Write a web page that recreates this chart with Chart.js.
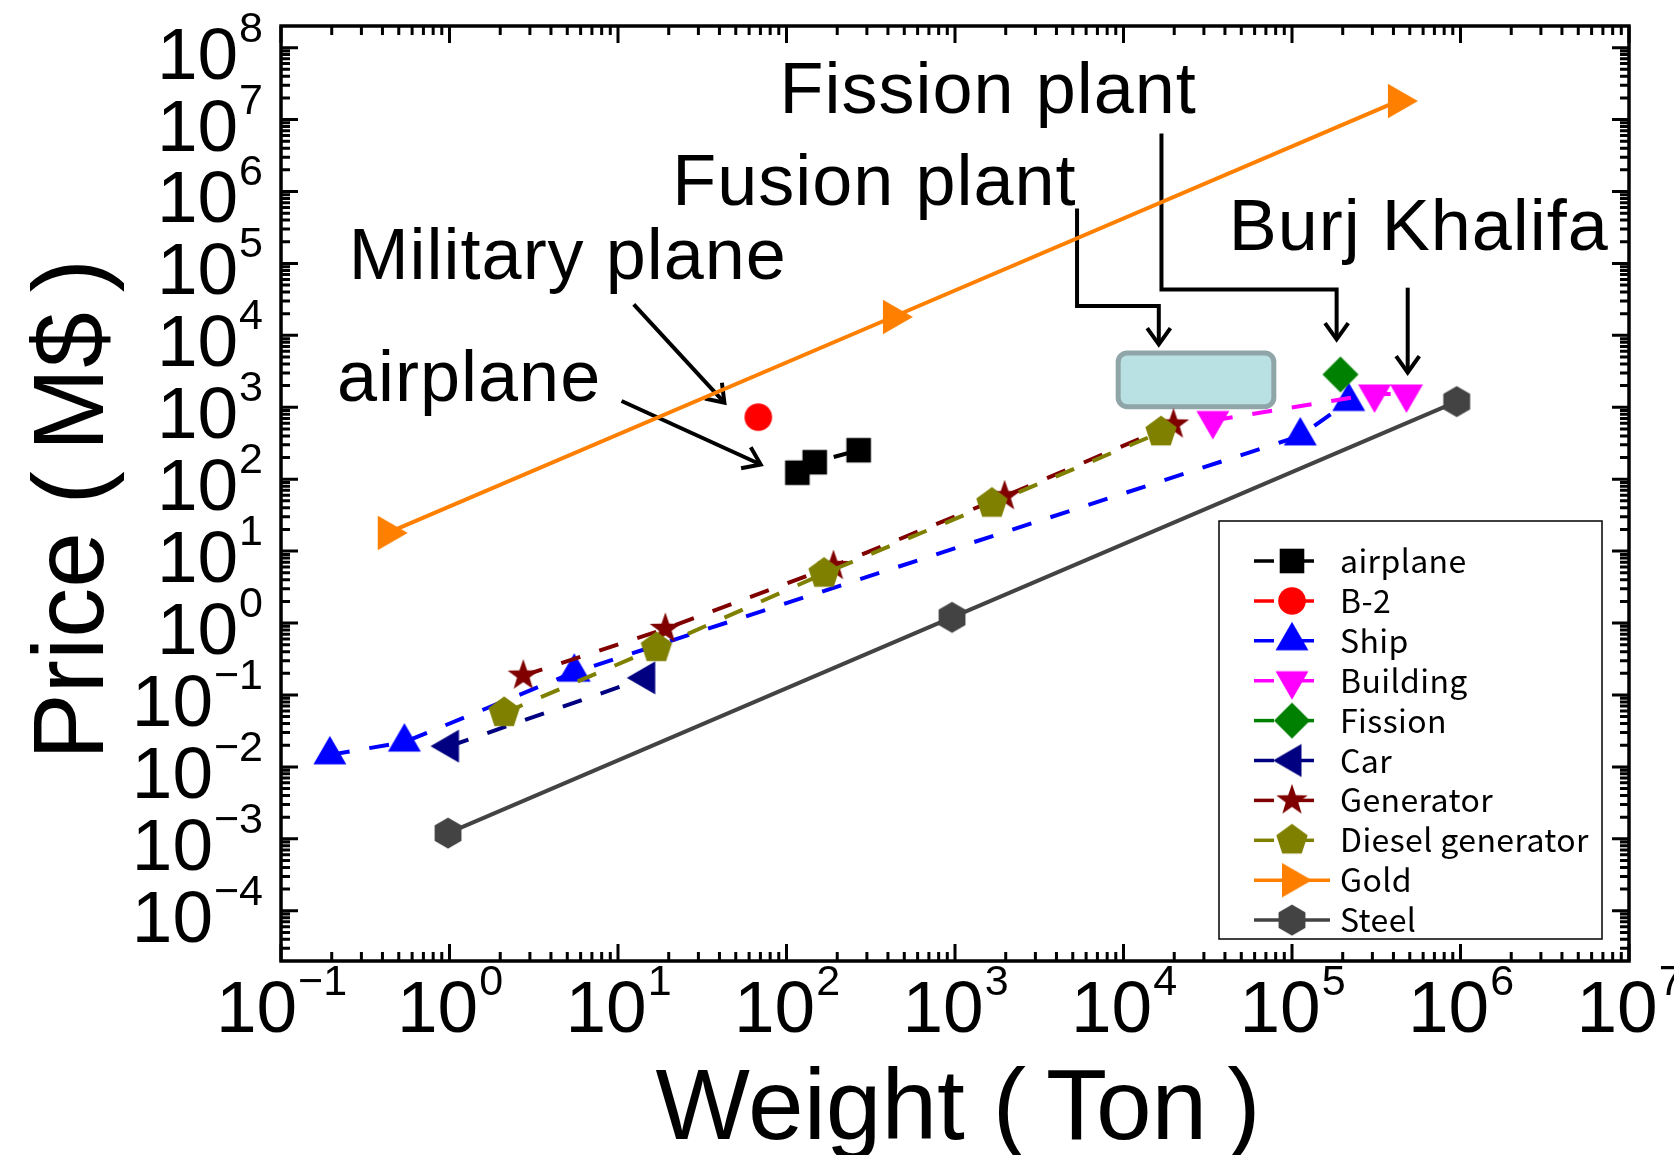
<!DOCTYPE html>
<html lang="en">
<head>
    <meta charset="UTF-8">
    <title>Price vs Weight</title>
    <script src="https://cdn.jsdelivr.net/npm/chart.js"></script>
    <style>
        body { margin: 0; background: #ffffff; }
        .wrap { width: 1674px; height: 1155px; position: relative; }
    </style>
</head>
<body>
    <div class="wrap"><canvas id="priceChart"></canvas></div>

    <script>
        // weight in ton, price in M$
        const airplaneWeight = [116, 147, 268];
        const airplanePrice = [123, 172, 253];
        const b2Weight = [68];
        const b2Price = [728];
        const shipWeight = [0.195, 0.54, 5.5, 1.12e5, 2.17e5];
        const shipPrice = [0.0147, 0.0221, 0.207, 400, 1205];
        const buildingWeight = [3.39e4, 3.09e5, 4.78e5];
        const buildingPrice = [655, 1530, 1530];
        const fissionWeight = [1.94e5];
        const fissionPrice = [2860];
        const carWeight = [1.0, 14.6];
        const carPrice = [0.0194, 0.173];
        const generatorWeight = [2.74, 19.1, 190, 1970, 1.98e4];
        const generatorPrice = [0.186, 0.83, 6.2, 58, 577];
        const dieselWeight = [2.11, 16.9, 167, 1656, 1.67e4];
        const dieselPrice = [0.0564, 0.452, 4.88, 45.9, 451];
        const goldWeight = [0.43, 428, 4.25e5];
        const goldPrice = [17.9, 1.8e4, 1.81e7];
        const steelWeight = [0.98, 960, 9.5e5];
        const steelPrice = [0.0012, 1.2, 1200];

        const xExponents = [-1, 0, 1, 2, 3, 4, 5, 6, 7];
        const yExponents = [-4, -3, -2, -1, 0, 1, 2, 3, 4, 5, 6, 7, 8];

        // annotations, in data units (weight, price)
        const noteTexts = ['Fission plant', 'Fusion plant', 'Burj Khalifa', 'Military plane', 'airplane'];
        const noteWeight = [91, 21, 4.21e4, 0.252, 0.215];
        const notePrice = [1.22e7, 6.47e5, 1.52e5, 6.05e4, 1216];
        const fissionArrow = [[1.68e4, 6.4e6], [1.68e4, 4.35e4], [1.84e5, 4.35e4], [1.84e5, 8.8e3]];
        const fusionArrow = [[5.3e3, 5.8e5], [5.3e3, 2.55e4], [1.62e4, 2.55e4], [1.62e4, 7.5e3]];
        const burjArrow = [[4.86e5, 4.6e4], [4.86e5, 3.05e3]];
        const militaryArrow = [[12.4, 2.7e4], [42.8, 1.16e3]];
        const airplaneArrow = [[10.5, 1.22e3], [70.3, 160]];
        const fusionBox = [[9.3e3, 1.02e3], [7.8e4, 5.7e3]];

        // marker images
        function polyPath(g, n, r, start) {
            for (let i = 0; i < n; i++) {
                const a = start + i * 2 * Math.PI / n;
                if (i === 0) g.moveTo(r * Math.cos(a), r * Math.sin(a));
                else g.lineTo(r * Math.cos(a), r * Math.sin(a));
            }
        }
        function makeMarker(kind, color) {
            const c = document.createElement('canvas');
            c.width = 44; c.height = 44;
            const g = c.getContext('2d');
            g.translate(22, 22);
            g.fillStyle = color;
            g.beginPath();
            if (kind === 'square') g.rect(-12.3, -12.3, 24.6, 24.6);
            else if (kind === 'circle') g.arc(0, 0, 13.8, 0, Math.PI * 2);
            else if (kind === 'up') polyPath(g, 3, 19, -Math.PI / 2);
            else if (kind === 'down') polyPath(g, 3, 19, Math.PI / 2);
            else if (kind === 'left') polyPath(g, 3, 19, Math.PI);
            else if (kind === 'right') polyPath(g, 3, 20, 0);
            else if (kind === 'diamond') polyPath(g, 4, 18, 0);
            else if (kind === 'pentagon') polyPath(g, 5, 16.5, -Math.PI / 2);
            else if (kind === 'hexagon') polyPath(g, 6, 15.5, -Math.PI / 2);
            else if (kind === 'star') {
                for (let i = 0; i < 10; i++) {
                    const a = -Math.PI / 2 + i * Math.PI / 5;
                    const r = i % 2 ? 6.6 : 16.5;
                    if (i === 0) g.moveTo(r * Math.cos(a), r * Math.sin(a));
                    else g.lineTo(r * Math.cos(a), r * Math.sin(a));
                }
            }
            g.closePath();
            g.fill();
            return c;
        }

        function series(label, xs, ys, color, marker, dashed) {
            return {
                label: label,
                data: xs.map((x, i) => ({ x: x, y: ys[i] })),
                showLine: true,
                borderColor: color,
                backgroundColor: color,
                borderWidth: 4,
                borderDash: dashed ? [20, 20] : [],
                pointStyle: makeMarker(marker, color),
                pointRadius: 15,
                pointHoverRadius: 15,
                tension: 0
            };
        }

        const datasets = [
            series('airplane', airplaneWeight, airplanePrice, '#000000', 'square', true),
            series('B-2', b2Weight, b2Price, '#ff0000', 'circle', true),
            series('Ship', shipWeight, shipPrice, '#0000ff', 'up', true),
            series('Building', buildingWeight, buildingPrice, '#ff00ff', 'down', true),
            series('Fission', fissionWeight, fissionPrice, '#008000', 'diamond', true),
            series('Car', carWeight, carPrice, '#000080', 'left', true),
            series('Generator', generatorWeight, generatorPrice, '#800000', 'star', true),
            series('Diesel generator', dieselWeight, dieselPrice, '#808000', 'pentagon', true),
            series('Gold', goldWeight, goldPrice, '#ff8000', 'right', false),
            series('Steel', steelWeight, steelPrice, '#434343', 'hexagon', false)
        ];
        // later series drawn on top
        datasets.forEach((d, i) => { d.order = datasets.length - i; });

        const labelFont = '"Liberation Sans", Arial, sans-serif';

        function drawArrow(ctx, xs, ys, pts) {
            ctx.beginPath();
            pts.forEach((p, i) => {
                const px = xs.getPixelForValue(p[0]), py = ys.getPixelForValue(p[1]);
                if (i === 0) ctx.moveTo(px, py); else ctx.lineTo(px, py);
            });
            ctx.stroke();
            const n = pts.length;
            const tx = xs.getPixelForValue(pts[n - 1][0]), ty = ys.getPixelForValue(pts[n - 1][1]);
            const fx = xs.getPixelForValue(pts[n - 2][0]), fy = ys.getPixelForValue(pts[n - 2][1]);
            const ang = Math.atan2(ty - fy, tx - fx);
            const len = 20, spread = 0.62;
            ctx.beginPath();
            ctx.moveTo(tx - len * Math.cos(ang - spread), ty - len * Math.sin(ang - spread));
            ctx.lineTo(tx, ty);
            ctx.lineTo(tx - len * Math.cos(ang + spread), ty - len * Math.sin(ang + spread));
            ctx.stroke();
        }

        const notesPlugin = {
            id: 'notes',
            beforeDatasetsDraw(chart) {
                const ctx = chart.ctx, xs = chart.scales.x, ys = chart.scales.y;
                ctx.save();
                // fusion plant box
                const bx0 = xs.getPixelForValue(fusionBox[0][0]), bx1 = xs.getPixelForValue(fusionBox[1][0]);
                const by0 = ys.getPixelForValue(fusionBox[1][1]), by1 = ys.getPixelForValue(fusionBox[0][1]);
                ctx.beginPath();
                ctx.roundRect(bx0, by0, bx1 - bx0, by1 - by0, 9);
                ctx.fillStyle = '#b9e0e3';
                ctx.fill();
                ctx.lineWidth = 5;
                ctx.strokeStyle = '#8fa5a7';
                ctx.stroke();

                ctx.strokeStyle = '#000000';
                ctx.lineWidth = 4;
                ctx.lineJoin = 'miter';
                [fissionArrow, fusionArrow, burjArrow, militaryArrow, airplaneArrow].forEach(a => drawArrow(ctx, xs, ys, a));

                ctx.fillStyle = '#000000';
                ctx.font = '72px ' + labelFont;
                ctx.letterSpacing = '1px';
                ctx.textAlign = 'left';
                ctx.textBaseline = 'alphabetic';
                noteTexts.forEach((t, i) => {
                    ctx.fillText(t, xs.getPixelForValue(noteWeight[i]), ys.getPixelForValue(notePrice[i]));
                });
                ctx.restore();
            }
        };

        function powerLabel(ctx, exp, x, baseY, align) {
            const base = '10';
            const sup = exp < 0 ? '\u2212' + (-exp) : String(exp);
            ctx.font = '73px ' + labelFont;
            const wb = ctx.measureText(base).width;
            ctx.font = '43px ' + labelFont;
            const ws = ctx.measureText(sup).width;
            const start = align === 'center' ? x - (wb + ws) / 2 : x - (wb + ws);
            ctx.textAlign = 'left';
            ctx.font = '73px ' + labelFont;
            ctx.fillText(base, start, baseY);
            ctx.font = '43px ' + labelFont;
            ctx.fillText(sup, start + wb + 1, baseY - 37);
        }

        const framePlugin = {
            id: 'frame',
            afterDraw(chart) {
                const ctx = chart.ctx, ca = chart.chartArea;
                const xs = chart.scales.x, ys = chart.scales.y;
                ctx.save();
                ctx.strokeStyle = '#000000';
                ctx.fillStyle = '#000000';

                // ticks on all four sides, pointing inward
                ctx.lineWidth = 3;
                ctx.beginPath();
                for (let e = -1; e <= 7; e++) {
                    for (let m = 1; m <= 9; m++) {
                        const v = m * Math.pow(10, e);
                        if (v < xs.min || v > xs.max) continue;
                        const px = xs.getPixelForValue(v);
                        const len = m === 1 ? 17 : 9;
                        ctx.moveTo(px, ca.bottom); ctx.lineTo(px, ca.bottom - len);
                        ctx.moveTo(px, ca.top); ctx.lineTo(px, ca.top + len);
                    }
                }
                for (let e = -5; e <= 8; e++) {
                    for (let m = 1; m <= 9; m++) {
                        const v = m * Math.pow(10, e);
                        if (v <= ys.min * 1.01 || v >= ys.max * 0.99) continue;
                        const py = ys.getPixelForValue(v);
                        const len = m === 1 ? 17 : 9;
                        ctx.moveTo(ca.left, py); ctx.lineTo(ca.left + len, py);
                        ctx.moveTo(ca.right, py); ctx.lineTo(ca.right - len, py);
                    }
                }
                ctx.stroke();

                ctx.lineWidth = 3.5;
                ctx.strokeRect(ca.left, ca.top, ca.right - ca.left, ca.bottom - ca.top);

                // tick labels
                ctx.textBaseline = 'alphabetic';
                xExponents.forEach(e => {
                    powerLabel(ctx, e, xs.getPixelForValue(Math.pow(10, e)), ca.bottom + 71, 'center');
                });
                yExponents.forEach(e => {
                    powerLabel(ctx, e, ca.left - 19, ys.getPixelForValue(Math.pow(10, e)) + 31, 'right');
                });

                // axis titles
                ctx.textAlign = 'center';
                ctx.font = '100px ' + labelFont;
                ctx.fillText('Weight (\u2009Ton\u2009)', (ca.left + ca.right) / 2 + 3, ca.bottom + 178);
                ctx.save();
                ctx.translate(ca.left - 178, (ca.top + ca.bottom) / 2 + 16);
                ctx.rotate(-Math.PI / 2);
                ctx.font = '100px ' + labelFont;
                ctx.fillText('Price (\u2009M$\u2009)', 0, 0);
                ctx.restore();

                // legend box, lower right inside the frame
                const lw = 383, lh = 418;
                const lx = ca.right - 27 - lw, ly = ca.bottom - 22 - lh;
                ctx.fillStyle = '#ffffff';
                ctx.fillRect(lx, ly, lw, lh);
                ctx.lineWidth = 1.5;
                ctx.strokeStyle = '#000000';
                ctx.strokeRect(lx, ly, lw, lh);
                ctx.font = '32px "Noto Sans CJK JP", ' + labelFont;
                ctx.letterSpacing = '0.4px';
                ctx.textAlign = 'left';
                chart.data.datasets.forEach((d, i) => {
                    const cy = ly + 40 + i * 39.9;
                    const dashed = d.borderDash.length > 0;
                    ctx.beginPath();
                    ctx.setLineDash(d.borderDash);
                    ctx.strokeStyle = d.borderColor;
                    ctx.lineWidth = 3.5;
                    ctx.moveTo(lx + 35, cy);
                    ctx.lineTo(lx + (dashed ? 98 : 111), cy);
                    ctx.stroke();
                    ctx.setLineDash([]);
                    const img = d.pointStyle;
                    ctx.drawImage(img, lx + 73 - img.width / 2, cy - img.height / 2);
                    ctx.fillStyle = '#000000';
                    ctx.fillText(d.label, lx + 121, cy + 12);
                });
                ctx.restore();
            }
        };

        const chart = new Chart(document.getElementById('priceChart'), {
            type: 'scatter',
            data: { datasets: datasets },
            options: {
                responsive: true,
                maintainAspectRatio: false,
                animation: false,
                events: [],
                layout: { padding: { left: 281, right: 45, top: 26, bottom: 194 } },
                scales: {
                    x: { type: 'logarithmic', min: 0.1, max: 1e7, display: false },
                    y: { type: 'logarithmic', min: 2e-5, max: 2e8, display: false }
                },
                plugins: {
                    legend: { display: false },
                    tooltip: { enabled: false }
                }
            },
            plugins: [notesPlugin, framePlugin]
        });
    </script>
</body>
</html>
